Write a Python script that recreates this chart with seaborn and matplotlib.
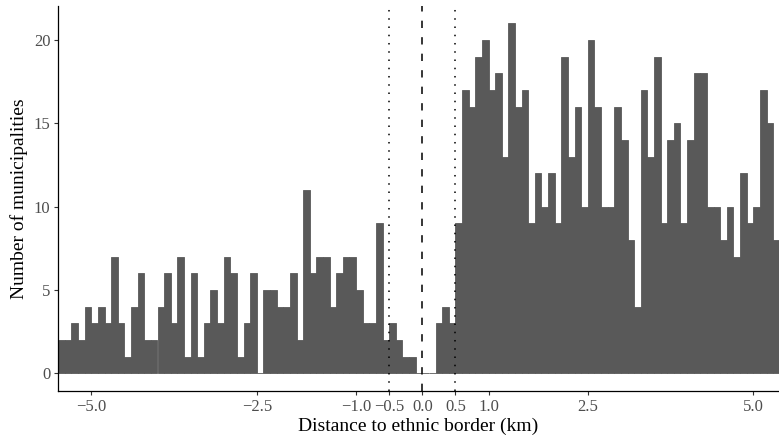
import numpy as np
import pandas as pd
import seaborn as sns
import matplotlib.pyplot as plt

# histogram of municipalities by distance to the ethnic border, 0.1 km bins
BIN_START = -5.5
BIN_WIDTH = 0.1

# bins -5.5 ... -0.1
counts_west = [2, 2, 3, 2, 4, 3, 4, 3, 7, 3,
               1, 4, 6, 2, 2, 4, 6, 3, 7, 1,
               6, 1, 3, 5, 3, 7, 6, 1, 3, 6,
               0, 5, 5, 4, 4, 6, 2, 11, 6, 7,
               7, 4, 6, 7, 7, 5, 3, 3, 9, 2,
               3, 2, 1, 1, 0]
# bins 0.0 ... 5.3
counts_east = [0, 0, 3, 4, 3, 9, 17, 16, 19, 20,
               17, 18, 13, 21, 16, 17, 9, 12, 10, 12,
               9, 19, 13, 16, 10, 20, 16, 10, 10, 16,
               14, 8, 4, 17, 13, 19, 9, 14, 15, 9,
               14, 18, 18, 10, 10, 8, 10, 7, 12, 9,
               10, 17, 15, 8]

x_ticks = [-5.0, -2.5, -1.0, -0.5, 0.0, 0.5, 1.0, 2.5, 5.0]
x_labels = ["\u22125.0", "\u22122.5", "\u22121.0", "\u22120.5", "0.0", "0.5", "1.0", "2.5", "5.0"]
y_ticks = [0, 5, 10, 15, 20]
band_lines = [-0.5, 0.5]

counts = counts_west + counts_east
edges = np.round(BIN_START + BIN_WIDTH * np.arange(len(counts) + 1), 2).tolist()
df = pd.DataFrame({"distance": np.array(edges[:-1]) + BIN_WIDTH / 2, "n": counts})

sns.set_style("ticks")
plt.rcParams["font.family"] = ["Liberation Serif", "DejaVu Serif"]

W, H = 779, 440
fig = plt.figure(figsize=(W / 100, H / 100), dpi=100)
left, bottom, top = 58.2, 390.7, 6.0
ax = fig.add_axes([left / W, 1 - bottom / H, 1 - left / W, (bottom - top) / H])

sns.histplot(data=df, x="distance", weights="n", bins=edges, color="#595959",
             alpha=1, linewidth=0.6, edgecolor="#595959", ax=ax)

ax.axvline(0, color="black", linewidth=1.1, linestyle=(0, (4.8, 6.0)))
for v in band_lines:
    ax.axvline(v, color="black", linewidth=1.1, linestyle=(0, (1, 4.4)))

ax.set_xlim(BIN_START, BIN_START + (W - left) / 66.2)
ax.set_ylim(-1.05, 22.05)
ax.set_xticks(x_ticks)
ax.set_xticklabels(x_labels)
ax.set_yticks(y_ticks)
ax.tick_params(axis="both", labelsize=12, labelcolor="#4d4d4d", color="#333333",
               length=3.2, width=0.8, pad=2.5)

for s in ["top", "right"]:
    ax.spines[s].set_visible(False)
for s in ["left", "bottom"]:
    ax.spines[s].set_color("black")
    ax.spines[s].set_linewidth(0.9)

ax.set_xlabel("Distance to ethnic border (km)", fontsize=14, color="black", labelpad=2)
ax.set_ylabel("Number of municipalities", fontsize=14, color="black", labelpad=4)

fig.savefig("out.png", dpi=100)
